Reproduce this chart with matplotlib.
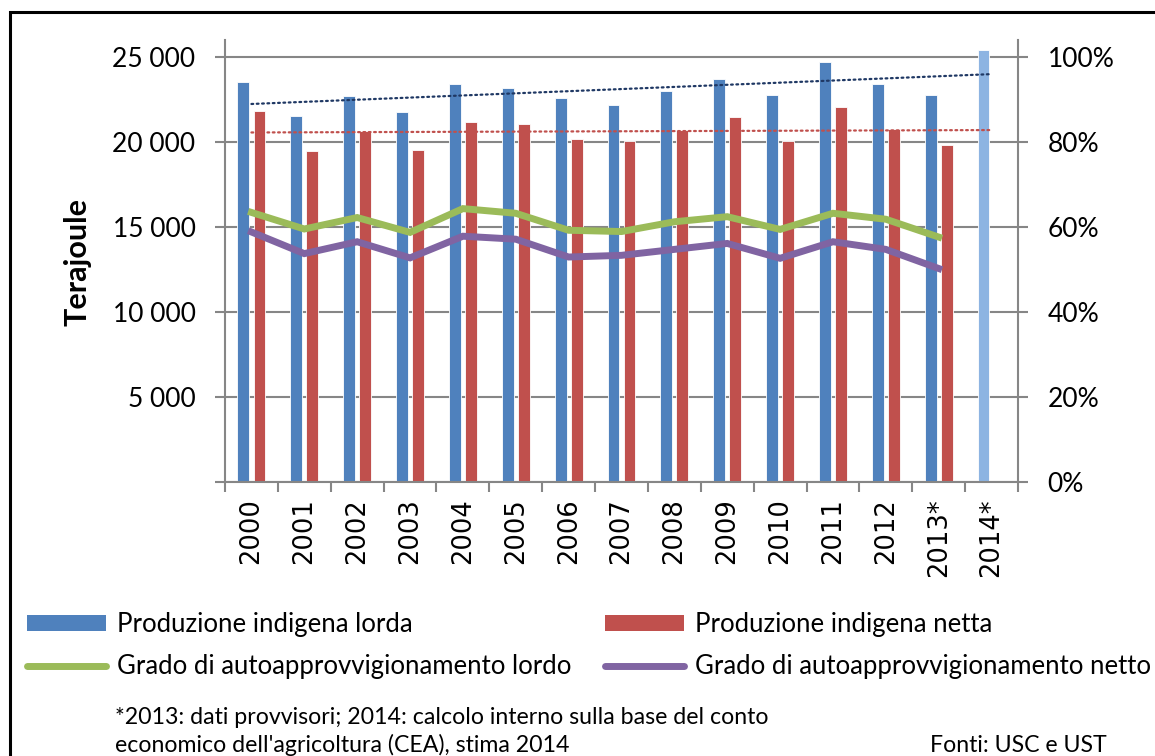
import numpy as np
import matplotlib
matplotlib.use("Agg")
import matplotlib.pyplot as plt
from matplotlib.patches import Patch, Rectangle
from matplotlib.lines import Line2D
from matplotlib.ticker import PercentFormatter

# ---- data ----
years = ['2000', '2001', '2002', '2003', '2004', '2005', '2006', '2007',
         '2008', '2009', '2010', '2011', '2012', '2013*', '2014*']
prod_lorda = [23500, 21550, 22730, 21750, 23430, 23200, 22590, 22190,
              23020, 23710, 22750, 24710, 23410, 22750, 25400]
prod_netta = [21820, 19450, 20650, 19530, 21180, 21060, 20160, 20060,
              20690, 21440, 20060, 22060, 20770, 19790]
grado_lordo = [0.634, 0.595, 0.622, 0.587, 0.643, 0.632, 0.592, 0.589,
               0.612, 0.624, 0.594, 0.632, 0.618, 0.576]
grado_netto = [0.588, 0.537, 0.565, 0.527, 0.578, 0.571, 0.529, 0.533,
               0.547, 0.561, 0.526, 0.565, 0.547, 0.502]
y_ticks = [0, 5000, 10000, 15000, 20000, 25000]
y_tick_labels = ['', '5 000', '10 000', '15 000', '20 000', '25 000']
legend_labels = ['Produzione indigena lorda', 'Grado di autoapprovvigionamento lordo',
                 'Produzione indigena netta', 'Grado di autoapprovvigionamento netto']
note_1 = "*2013: dati provvisori; 2014: calcolo interno sulla base del conto"
note_2 = "economico dell'agricoltura (CEA), stima 2014"
source = "Fonti: USC e UST"

BLUE = '#4F81BD'
LIGHT_BLUE = '#8DB4E2'
RED = '#C0504D'
GREEN = '#9BBB59'
PURPLE = '#8064A2'
NAVY = '#1F3864'
GRID = '#868686'
TXT_FONT = ['Lato', 'DejaVu Sans']

W, H = 1155, 756
fig = plt.figure(figsize=(W / 100, H / 100), dpi=100)
ax = fig.add_axes([225 / W, 1 - 481.7 / H, (1018 - 225) / W, (481.7 - 40) / H])
ax2 = ax.twinx()

x = np.arange(len(years))
bw = 0.225
off = 0.152
blue_colors = [BLUE] * (len(years) - 1) + [LIGHT_BLUE]
ax.bar(x - off, prod_lorda, width=bw, color=blue_colors, edgecolor='#FFFFFF',
       linewidth=0.6, zorder=2)
xn = np.arange(len(prod_netta))
ax.bar(xn + off, prod_netta, width=bw, color=RED, edgecolor='#FFFFFF',
       linewidth=0.6, zorder=2)

# linear trend lines (Excel-style)
pl = np.polyfit(x, prod_lorda, 1)
pn = np.polyfit(xn, prod_netta, 1)
xt = np.array([0, len(years) - 1])
ax.plot(xt, np.polyval(pl, xt), color=NAVY, lw=1.6, ls=(0, (0.8, 1.6)),
        dash_capstyle='round', zorder=3)
ax.plot(xt, np.polyval(pn, xt), color=RED, lw=1.6, ls=(0, (0.8, 1.6)),
        dash_capstyle='round', zorder=3)

ax2.plot(np.arange(len(grado_lordo)), grado_lordo, color=GREEN, lw=5,
         solid_joinstyle='miter', zorder=4)
ax2.plot(np.arange(len(grado_netto)), grado_netto, color=PURPLE, lw=5,
         solid_joinstyle='miter', zorder=4)

ax.set_xlim(-0.5, len(years) - 0.5)
ax.set_ylim(0, 26000)
ax2.set_ylim(0, 1.04)

ax.set_yticks(y_ticks)
ax.set_yticklabels(y_tick_labels, fontfamily=TXT_FONT, fontsize=19)
ax.yaxis.grid(True, color=GRID, lw=1.5)
ax.set_axisbelow(True)
ax.tick_params(axis='y', direction='out', length=7.2, width=1.5, color=GRID, pad=14)

ax.set_xticks(np.arange(-0.5, len(years), 1))
ax.set_xticklabels([])
ax.set_xticks(x, minor=True)
ax.set_xticklabels(years, minor=True, rotation=90, fontfamily='DejaVu Sans',
                   fontsize=18.5)
ax.tick_params(axis='x', which='major', direction='out', length=7.2, width=1.5,
               color=GRID)
ax.tick_params(axis='x', which='minor', length=0, pad=12)

ax2.set_yticks([0, 0.2, 0.4, 0.6, 0.8, 1.0])
ax2.yaxis.set_major_formatter(PercentFormatter(1.0, decimals=0))
for t in ax2.get_yticklabels():
    t.set_fontfamily(TXT_FONT)
ax2.tick_params(axis='y', direction='out', length=7.2, width=1.5, color=GRID,
                pad=14, labelsize=19)

for s in ['top', 'right']:
    ax.spines[s].set_visible(False)
for s in ['left', 'bottom']:
    ax.spines[s].set_color(GRID)
    ax.spines[s].set_linewidth(1.5)
for s in ['top', 'left', 'bottom']:
    ax2.spines[s].set_visible(False)
ax2.spines['right'].set_color(GRID)
ax2.spines['right'].set_linewidth(1.5)

fig.text(77 / W, 1 - 262 / H, 'Terajoule', rotation=90, fontweight='bold',
         fontsize=22, fontfamily=TXT_FONT, ha='center', va='center')

# legends (two columns)
h_blue = Patch(facecolor=BLUE, edgecolor='none')
h_green = Line2D([], [], color=GREEN, lw=5, solid_capstyle='round')
h_red = Patch(facecolor=RED, edgecolor='none')
h_purple = Line2D([], [], color=PURPLE, lw=5, solid_capstyle='round')
common = dict(loc='upper left', frameon=False, handlelength=3.08,
              handleheight=0.62, handletextpad=0.43, labelspacing=0.68,
              borderpad=0, borderaxespad=0, prop={'family': TXT_FONT, 'size': 18.5})
fig.legend([h_blue, h_green], legend_labels[:2],
           bbox_to_anchor=(27 / W, 1 - 612 / H), **common)
fig.legend([h_red, h_purple], legend_labels[2:],
           bbox_to_anchor=(605 / W, 1 - 612 / H), **common)

fig.text(115 / W, 1 - 717 / H, note_1, fontfamily=TXT_FONT, fontsize=16.7,
         va='center', ha='left')
fig.text(115 / W, 1 - 745 / H, note_2, fontfamily=TXT_FONT, fontsize=16.7,
         va='center', ha='left')
fig.text(930 / W, 1 - 745 / H, source, fontfamily=TXT_FONT, fontsize=16.7,
         va='center', ha='left')

fig.patches.append(Rectangle((10 / W, -0.1), 1.2, (1 - 12 / H) + 0.1,
                             transform=fig.transFigure, fill=False,
                             edgecolor='black', linewidth=2.2))

fig.savefig('out.png', dpi=100)
